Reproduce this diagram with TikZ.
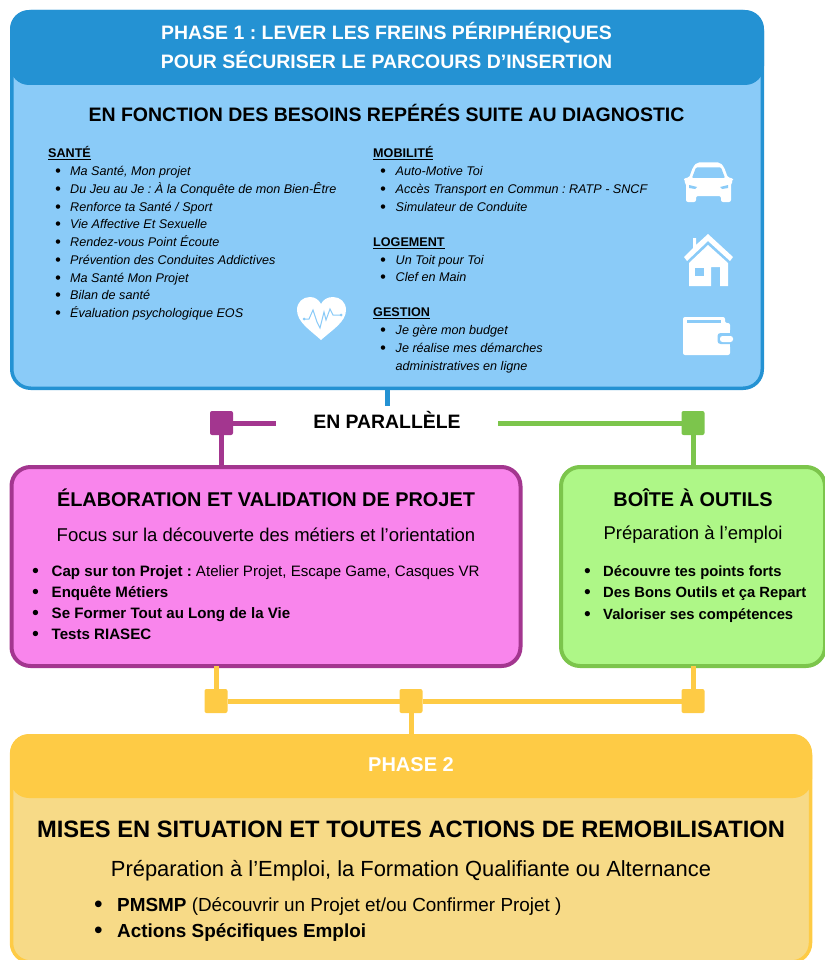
\documentclass[tikz,border=0pt]{standalone}
\usepackage{fontspec}
\setmainfont{Liberation Sans}
\usepackage{tikz}
\definecolor{blueDark}{HTML}{2492D3}
\definecolor{blueLight}{HTML}{8ACBF8}
\definecolor{pinkLight}{HTML}{F985EC}
\definecolor{pinkDark}{HTML}{A3368F}
\definecolor{greenLight}{HTML}{AEF787}
\definecolor{greenDark}{HTML}{7CC54C}
\definecolor{yellowDark}{HTML}{FECB45}
\definecolor{yellowLight}{HTML}{F7DA87}
\frenchspacing
\newcommand{\puce}[1]{\makebox[#1][l]{\raisebox{-0.1em}{\scalebox{1.3}{\textbullet}}}}
\newcommand{\sizept}[1]{\fontsize{#1}{#1}\selectfont}
\tikzset{
	x=1pt,y=-1pt,
	panel/.style={draw,rounded corners=19pt,line width=3.5pt,inner sep=0pt,outer sep=0pt},
	banner/.style={rounded corners=19pt,inner sep=0pt,outer sep=0pt},
	sq/.style={rounded corners=2pt,minimum width=23pt,minimum height=24pt,inner sep=0pt,outer sep=0pt},
	conn/.style={line width=5pt},
	smallitem/.style={anchor=west,inner sep=0pt,text height=9pt,text depth=3pt,font=\itshape\sizept{12.6}},
	smallhead/.style={anchor=west,inner sep=0pt,text height=9pt,text depth=3pt,font=\bfseries\sizept{12.6}},
	biglist/.style={anchor=west,inner sep=0pt,text height=11pt,text depth=3pt,font=\sizept{15.1}},
	phaselist/.style={anchor=west,inner sep=0pt,text height=14pt,text depth=4pt,font=\sizept{18.9}},
	titre/.style={inner sep=0pt,text height=14pt,text depth=0pt,font=\bfseries\sizept{19.9}},
	soustitre/.style={inner sep=0pt,font=\sizept{18.5}},
	bannertext/.style={inner sep=0pt,text=white,font=\bfseries\sizept{19.45}}
}
\begin{document}
\begin{tikzpicture}
	\useasboundingbox (0,0) rectangle (824,960);

	\node[panel,draw=blueDark,fill=blueLight,minimum width=750.5pt,minimum height=376.5pt] (phaseone) at (387,200) {};
	\node[banner,fill=blueDark,minimum width=754pt,minimum height=75pt] (phaseonehead) at (387,47.5) {};
	\node[bannertext] (phaseonetitlea) at (386.5,32.5) {PHASE 1 : LEVER LES FREINS PÉRIPHÉRIQUES};
	\node[bannertext] (phaseonetitleb) at (386.5,59.5) {POUR SÉCURISER LE PARCOURS D’INSERTION};
	\node[inner sep=0pt,font=\bfseries\sizept{19.5}] (phaseonesub) at (386.5,113) {EN FONCTION DES BESOINS REPÉRÉS SUITE AU DIAGNOSTIC};

	\node[smallhead] (sante) at (48,154.5) {\underline{SANTÉ}};
	\foreach \yy/\label [count=\i] in {172.5/{Ma Santé, Mon projet},190.5/{Du Jeu au Je : À la Conquête de mon Bien-Être},208.5/{Renforce ta Santé / Sport},225.5/{Vie Affective Et Sexuelle},243.5/{Rendez-vous Point Écoute},261.5/{Prévention des Conduites Addictives},279.5/{Ma Santé Mon Projet},296.5/{Bilan de santé},314.5/{Évaluation psychologique EOS}}
		\node[smallitem] (sante\i) at (55,\yy) {\puce{15pt}\label};

	\node[smallhead] (mobilite) at (373,154.5) {\underline{MOBILITÉ}};
	\foreach \yy/\label [count=\i] in {172.5/{Auto-Motive Toi},190.5/{Accès Transport en Commun : RATP - SNCF},208.5/{Simulateur de Conduite}}
		\node[smallitem] (mobilite\i) at (380,\yy) {\puce{15.5pt}\label};

	\node[smallhead] (logement) at (373,243.5) {\underline{LOGEMENT}};
	\foreach \yy/\label [count=\i] in {261.5/{Un Toit pour Toi},278.5/{Clef en Main}}
		\node[smallitem] (logement\i) at (380,\yy) {\puce{15.5pt}\label};

	\node[smallhead] (gestion) at (373,313.5) {\underline{GESTION}};
	\foreach \yy/\label [count=\i] in {331.5/{Je gère mon budget},349.5/{Je réalise mes démarches}}
		\node[smallitem] (gestion\i) at (380,\yy) {\puce{15.5pt}\label};
	\node[smallitem] (gestion3) at (395.5,367.5) {administratives en ligne};

	% heart
	\fill[white] (321,340) .. controls (310,330) and (297,322) .. (297,310) .. controls (297,302) and (303,297) .. (310,297) .. controls (315,297) and (319,300) .. (321,304) .. controls (323,300) and (327,297) .. (333,297) .. controls (340,297) and (346,302) .. (346,310) .. controls (346,322) and (332,330) .. (321,340);
	\draw[blueLight,line width=1pt] (304,319) -- (309,319) -- (313,310) -- (317,322) -- (320,328) -- (324,312) -- (326,320) -- (330,309) -- (333,315) -- (341,315);
	\fill[blueLight] (304,319) circle (1.5) (341,315) circle (1.5);

	% car
	\fill[white,rounded corners=2pt] (684,178) -- (689,178) -- (693,167) -- (697,162.5) -- (720,162.5) -- (724,167) -- (728,178) -- (733,178) -- (733,181) -- (731,183) -- (731,202) -- (721,202) -- (721,196) -- (696,196) -- (696,202) -- (686,202) -- (686,183) -- (684,181) -- cycle;
	\fill[blueLight,rounded corners=1pt] (692,178) -- (696,167.5) -- (721,167.5) -- (725,178) -- cycle;
	\fill[blueLight] (689,185) -- (697,187) -- (695,189) -- (689,188) -- cycle;
	\fill[blueLight] (728,185) -- (720,187) -- (722,189) -- (728,188) -- cycle;

	% house
	\fill[white] (708,234) -- (733,257) -- (730,261) -- (708,241) -- (687,261) -- (684,257) -- (693,248) -- (693,238) -- (696,238) -- (696,245) -- cycle;
	\fill[white] (708,245) -- (728,263) -- (728,286) -- (720,286) -- (720,267) -- (711,267) -- (711,286) -- (689,286) -- (689,263) -- cycle;
	\fill[blueLight] (695,268) rectangle (704,276);

	% wallet
	\fill[white,rounded corners=2pt] (683,317) -- (725,317) -- (725,323) -- (730,323) -- (730,355) -- (683,355) -- cycle;
	\fill[blueLight] (686.5,320) rectangle (721,323);
	\fill[blueLight,rounded corners=3pt] (717.5,333) rectangle (735,344);
	\fill[blueLight] (730,330) rectangle (735,347);
	\fill[white,rounded corners=2.5pt] (720,336) rectangle (733,342);

	\node[inner sep=0pt,minimum width=222pt,minimum height=34pt,text height=14pt,text depth=2.5pt,font=\bfseries\sizept{19.4}] (parallele) at (387,423) {EN PARALLÈLE};
	\node[sq,fill=pinkDark] (sqpink) at (221.5,423) {};
	\node[sq,fill=greenDark] (sqgreen) at (693,423) {};

	\node[panel,draw=pinkDark,fill=pinkLight,minimum width=509pt,minimum height=199pt,line width=4pt] (pinkbox) at (266,566.5) {};
	\node[panel,draw=greenDark,fill=greenLight,minimum width=264pt,minimum height=199pt,line width=4pt] (greenbox) at (693,566.5) {};

	\node[titre] (pinktitle) at (266,499) {ÉLABORATION ET VALIDATION DE PROJET};
	\node[soustitre] (pinksub) at (266,534.5) {Focus sur la découverte des métiers et l’orientation};
	\foreach \yy/\label [count=\i] in {572/{\textbf{Cap sur ton Projet :} Atelier Projet, Escape Game, Casques VR},593/{\textbf{Enquête Métiers}},614/{\textbf{Se Former Tout au Long de la Vie}},635/{\textbf{Tests RIASEC}}}
		\node[biglist] (pink\i) at (32,\yy) {\puce{19.5pt}\label};

	\node[titre] (greentitle) at (693,499) {BOÎTE À OUTILS};
	\node[soustitre] (greensub) at (693,534.5) {Préparation à l’emploi};
	\foreach \yy/\label [count=\i] in {572/{Découvre tes points forts},593/{Des Bons Outils et ça Repart},615/{Valoriser ses compétences}}
		\node[biglist,font=\sizept{14.8}] (green\i) at (584,\yy) {\puce{19pt}\textbf{\label}};

	\node[sq,fill=yellowDark] (sqyellowa) at (216,701) {};
	\node[sq,fill=yellowDark] (sqyellowb) at (411,701) {};
	\node[sq,fill=yellowDark] (sqyellowc) at (693,701) {};

	\node[panel,draw=yellowDark,fill=yellowLight,minimum width=799pt,minimum height=226pt] (phasetwo) at (411,849) {};
	\node[banner,fill=yellowDark,minimum width=802pt,minimum height=64pt] (phasetwohead) at (411,766) {};
	\node[bannertext,font=\bfseries\sizept{20}] (phasetwohl) at (411,764.5) {PHASE 2};

	\node[inner sep=0pt,font=\bfseries\sizept{23.7}] (phasetwotitle) at (411,829) {MISES EN SITUATION ET TOUTES ACTIONS DE REMOBILISATION};
	\node[inner sep=0pt,font=\sizept{21.9}] (phasetwosub) at (411,870.5) {Préparation à l’Emploi, la Formation Qualifiante ou Alternance};
	\node[phaselist] (phasetwoa) at (94,906) {\puce{23pt}\textbf{PMSMP} (Découvrir un Projet et/ou Confirmer Projet )};
	\node[phaselist] (phasetwob) at (94,932) {\puce{23pt}\textbf{Actions Spécifiques Emploi}};

	\draw[blueDark,conn] (phaseone.south) -- (parallele.north);
	\draw[pinkDark,conn] (parallele.west) -- (sqpink);
	\draw[pinkDark,conn] (sqpink) -- (sqpink |- pinkbox.north);
	\draw[greenDark,conn] (parallele.east) -- (sqgreen);
	\draw[greenDark,conn] (sqgreen) -- (greenbox.north);
	\draw[yellowDark,conn] (sqyellowa |- pinkbox.south) -- (sqyellowa);
	\draw[yellowDark,conn] (greenbox.south) -- (sqyellowc);
	\draw[yellowDark,conn] (sqyellowa) -- (sqyellowb);
	\draw[yellowDark,conn] (sqyellowb) -- (sqyellowc);
	\draw[yellowDark,conn] (sqyellowb) -- (phasetwo.north);

\end{tikzpicture}
\end{document}
